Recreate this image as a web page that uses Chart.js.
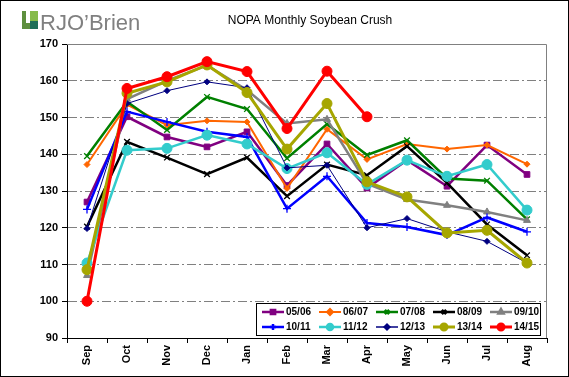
<!DOCTYPE html>
<html>
<head>
<meta charset="utf-8">
<script src="https://cdn.jsdelivr.net/npm/chart.js@4/dist/chart.umd.min.js"></script>
<style>
  html, body { margin: 0; padding: 0; background: #fff; }
  #wrap { position: relative; width: 569px; height: 377px; }
</style>
</head>
<body>
<div id="wrap"><canvas id="crush" width="569" height="377"></canvas></div>
<script>
// months of the crop year
const months = ['Sep', 'Oct', 'Nov', 'Dec', 'Jan', 'Feb', 'Mar', 'Apr', 'May', 'Jun', 'Jul', 'Aug'];
const yTicks = [90, 100, 110, 120, 130, 140, 150, 160, 170];

// million bushels
const s0506 = [127.0, 150.2, 144.7, 142.0, 146.1, 131.5, 142.8, 130.8, 138.4, 131.3, 142.5, 134.5];
const s0607 = [137.2, 153.5, 147.9, 149.1, 148.8, 130.7, 146.8, 138.6, 142.8, 141.4, 142.5, 137.3];
const s0708 = [139.5, 154.3, 146.6, 155.6, 152.3, 138.9, 148.2, 139.8, 143.8, 133.4, 132.8, 122.3];
const s0809 = [120.3, 143.4, 139.1, 134.6, 139.1, 128.6, 137.2, 134.3, 142.2, 132.2, 120.9, 112.5];
const s0910 = [107.0, 155.0, 160.0, 164.2, 157.5, 148.4, 149.5, 132.0, 127.7, 126.1, 124.3, 122.0];
const s1011 = [125.0, 151.6, 148.8, 146.1, 144.7, 125.2, 134.0, 121.3, 120.2, 118.0, 122.8, 118.9];
const s1112 = [110.4, 141.1, 141.6, 145.2, 142.8, 136.1, 140.4, 131.8, 138.4, 134.0, 137.2, 124.8];
const s1213 = [119.8, 153.8, 157.3, 159.7, 158.1, 136.3, 137.0, 120.0, 122.5, 118.9, 116.3, 110.4];
const s1314 = [108.6, 156.6, 159.7, 164.3, 156.8, 141.4, 153.8, 132.5, 128.4, 118.6, 119.3, 110.4];
const s1415 = [100.0, 157.9, 161.1, 165.2, 162.5, 147.0, 162.6, 150.2];

const seriesNames = ['05/06', '06/07', '07/08', '08/09', '09/10', '10/11', '11/12', '12/13', '13/14', '14/15'];
const seriesData = [s0506, s0607, s0708, s0809, s0910, s1011, s1112, s1213, s1314, s1415];

const colors = ['#800080', '#ff6600', '#008000', '#000000', '#808080', '#0000ff', '#33cccc', '#000080', '#a6a600', '#ff0000'];
const widths = [2.5, 2, 2.5, 2.5, 2.5, 2.5, 2.5, 1, 3, 3];
const pStyles = ['rect', 'rectRot', 'crossRot', 'crossRot', 'triangle', 'cross', 'circle', 'rectRot', 'circle', 'circle'];
const pRadius = [4, 3, 4, 4, 4, 4, 5, 3, 5, 5];

const datasets = seriesNames.map((name, i) => ({
    label: name,
    data: seriesData[i],
    borderColor: colors[i],
    backgroundColor: colors[i],
    borderWidth: widths[i],
    pointStyle: pStyles[i],
    pointRadius: pRadius[i],
    pointBorderWidth: (pStyles[i] === 'cross' || pStyles[i] === 'crossRot') ? 1.3 : 1,
    pointBorderColor: colors[i],
    pointBackgroundColor: colors[i],
    tension: 0,
    order: 10 - i   // later crop years on top
}));

// logo, title, frame and the in-plot legend
const decorations = {
    id: 'decorations',
    beforeDraw(chart) {
        const ctx = chart.ctx;
        ctx.save();
        ctx.fillStyle = '#fff';
        ctx.fillRect(0, 0, chart.width, chart.height);
        ctx.restore();
    },
    afterDraw(chart) {
        const ctx = chart.ctx;
        const a = chart.chartArea;
        ctx.save();

        // plot frame: grey top/right
        ctx.strokeStyle = '#808080';
        ctx.lineWidth = 1;
        ctx.beginPath();
        ctx.moveTo(a.left, a.top + 0.5);
        ctx.lineTo(a.right - 0.5, a.top + 0.5);
        ctx.lineTo(a.right - 0.5, a.bottom);
        ctx.stroke();

        // outer border
        ctx.strokeStyle = '#000';
        ctx.strokeRect(0.5, 0.5, chart.width - 1, chart.height - 1);

        // logo
        ctx.fillStyle = '#5e8f3e';
        ctx.fillRect(22, 11, 8, 18);
        ctx.fillStyle = '#86bb4a';
        ctx.fillRect(30, 11, 8, 10);
        ctx.fillStyle = '#1f6f58';
        ctx.fillRect(30, 21, 8, 8);
        ctx.fillStyle = '#fff';
        ctx.fillRect(26, 11, 4, 12);
        ctx.fillStyle = '#808080';
        ctx.font = '22px "Liberation Sans Narrow", "Liberation Sans"';
        ctx.textBaseline = 'alphabetic';
        ctx.fillText("RJO\u2019Brien", 40, 30);

        // title
        ctx.fillStyle = '#000';
        ctx.font = '12px "Liberation Sans"';
        ctx.textAlign = 'center';
        ctx.fillText('NOPA Monthly Soybean Crush', 310, 24);

        // legend box
        const lx = 256, ly = 303, lw = 284, lh = 32;
        ctx.fillStyle = '#fff';
        ctx.fillRect(lx, ly, lw, lh);
        ctx.strokeStyle = '#000';
        ctx.strokeRect(lx + 0.5, ly + 0.5, lw, lh);
        ctx.font = 'bold 10px "Liberation Sans Narrow", "Liberation Sans"';
        ctx.textAlign = 'left';
        ctx.textBaseline = 'middle';
        chart.data.datasets.forEach((ds, i) => {
            const col = i % 5, row = Math.floor(i / 5);
            const x0 = lx + 6 + col * 57;
            const y0 = ly + 9 + row * 15;
            ctx.strokeStyle = ds.borderColor;
            ctx.lineWidth = Math.max(ds.borderWidth, 1.5);
            ctx.beginPath();
            ctx.moveTo(x0, y0);
            ctx.lineTo(x0 + 22, y0);
            ctx.stroke();
            Chart.helpers.drawPoint(ctx, {
                pointStyle: ds.pointStyle,
                radius: Math.min(ds.pointRadius, 3),
                rotation: 0,
                borderWidth: 1
            }, x0 + 11, y0);
            ctx.fillStyle = ds.borderColor;
            ctx.strokeStyle = ds.borderColor;
            ctx.fill();
            ctx.fillStyle = '#000';
            ctx.fillText(ds.label, x0 + 24, y0 + 0.5);
        });
        ctx.restore();
    }
};

new Chart(document.getElementById('crush'), {
    type: 'line',
    data: { labels: months, datasets: datasets },
    plugins: [decorations],
    options: {
        responsive: false,
        animation: false,
        events: [],
        layout: { padding: { top: 44, right: 22, left: 0, bottom: 0 } },
        plugins: { legend: { display: false }, title: { display: false }, tooltip: { enabled: false } },
        scales: {
            y: {
                min: yTicks[0],
                max: yTicks[yTicks.length - 1],
                afterFit(scale) { scale.width = 67; },
                afterBuildTicks(scale) { scale.ticks = yTicks.map(v => ({ value: v })); },
                ticks: {
                    color: '#000',
                    padding: 4,
                    font: { family: '"Liberation Sans"', size: 11, weight: 'bold' }
                },
                grid: {
                    color: ctx => (ctx.tick && (ctx.tick.value === 90 || ctx.tick.value === 170)) ? 'rgba(0,0,0,0)' : '#808080',
                    tickColor: '#000',
                    tickLength: 5,
                    lineWidth: 1
                },
                border: { display: true, color: '#000', width: 1, dash: [9, 3, 2, 3] }
            },
            x: {
                offset: true,
                afterFit(scale) { scale.height = 39; },
                ticks: {
                    color: '#000',
                    minRotation: 90,
                    maxRotation: 90,
                    padding: 2,
                    font: { family: '"Liberation Sans"', size: 11, weight: 'bold' }
                },
                grid: {
                    offset: true,
                    drawOnChartArea: false,
                    tickColor: '#000',
                    tickLength: 5
                },
                border: { display: true, color: '#000', width: 1 }
            }
        }
    }
});
</script>
</body>
</html>
